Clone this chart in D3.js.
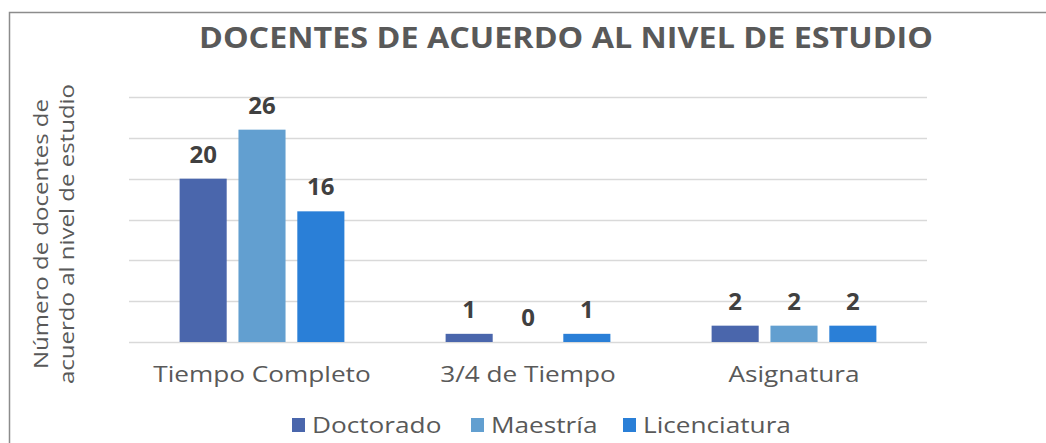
<!DOCTYPE html>
<html>
<head>
<meta charset="utf-8">
<script src="https://cdn.jsdelivr.net/npm/d3@7"></script>
<style>
  body { margin: 0; background: #fff; }
  svg { display: block; }
</style>
</head>
<body>
<script>
const categories = ["Tiempo Completo", "3/4 de Tiempo", "Asignatura"];
const seriesNames = ["Doctorado", "Maestría", "Licenciatura"];
const doctorado = [20, 1, 2];
const maestria = [26, 0, 2];
const licenciatura = [16, 1, 2];
const yTicks = [0, 5, 10, 15, 20, 25, 30];
const colors = ["#4a66ac", "#629fd0", "#2a7fd7"];

const seriesValues = [doctorado, maestria, licenciatura];
const W = 1046, H = 443;
const margin = {left: 129, right: 119, top: 97, bottom: 101};
const font = "'Open Sans', sans-serif";

// the reference uses a wide geometric face; widen Open Sans to match
const widen = (sel, k) => sel.each(function () {
    const len = this.getComputedTextLength();
    d3.select(this).attr("textLength", len * k).attr("lengthAdjust", "spacingAndGlyphs");
});

const svg = d3.select("body").append("svg")
    .attr("width", W)
    .attr("height", H);

// frame
svg.append("path")
    .attr("d", `M9.5,${H} L9.5,12.5 L${W},12.5`)
    .attr("fill", "none")
    .attr("stroke", "#8c8c8c")
    .attr("stroke-width", 1.5);

svg.append("text")
    .attr("x", 566)
    .attr("y", 48)
    .attr("text-anchor", "middle")
    .attr("font-family", font)
    .attr("font-weight", "bold")
    .attr("font-size", "28px")
    .attr("fill", "#595959")
    .attr("textLength", 734)
    .attr("lengthAdjust", "spacingAndGlyphs")
    .text("DOCENTES DE ACUERDO AL NIVEL DE ESTUDIO");

const x0 = d3.scaleBand()
    .domain(categories)
    .range([margin.left, W - margin.right]);

const x1 = d3.scaleBand()
    .domain(seriesNames)
    .range([0, x0.bandwidth()])
    .paddingInner(0.2)
    .paddingOuter(0.86);

const y = d3.scaleLinear()
    .domain([0, 30])
    .range([H - margin.bottom, margin.top]);

// gridlines
svg.append("g")
    .selectAll("line")
    .data(yTicks)
    .join("line")
    .attr("x1", margin.left)
    .attr("x2", W - margin.right)
    .attr("y1", d => Math.round(y(d)) + 0.5)
    .attr("y2", d => Math.round(y(d)) + 0.5)
    .attr("stroke", "#d9d9d9")
    .attr("stroke-width", 1.5);

const groups = svg.append("g")
    .selectAll("g")
    .data(categories)
    .join("g")
    .attr("transform", d => `translate(${x0(d)},0)`);

const cells = (c, ci) => seriesNames.map((s, si) => ({s, si, v: seriesValues[si][ci]}));

groups.selectAll("rect")
    .data(cells)
    .join("rect")
    .attr("x", d => x1(d.s))
    .attr("width", x1.bandwidth())
    .attr("y", d => y(d.v))
    .attr("height", d => y(0) - y(d.v))
    .attr("fill", d => colors[d.si]);

groups.selectAll("text")
    .data(cells)
    .join("text")
    .attr("x", d => x1(d.s) + x1.bandwidth() / 2)
    .attr("y", d => y(d.v) - 16)
    .attr("text-anchor", "middle")
    .attr("font-family", font)
    .attr("font-weight", "bold")
    .attr("font-size", "24px")
    .attr("fill", "#404040")
    .text(d => d.v);

// category labels
svg.append("g")
    .selectAll("text")
    .data(categories)
    .join("text")
    .attr("x", d => x0(d) + x0.bandwidth() / 2)
    .attr("y", 382)
    .attr("text-anchor", "middle")
    .attr("font-family", font)
    .attr("font-size", "22px")
    .attr("fill", "#595959")
    .text(d => d)
    .call(widen, 1.19);

// y axis title
const yt = svg.append("text")
    .attr("transform", "translate(48,234) rotate(-90)")
    .attr("text-anchor", "middle")
    .attr("font-family", font)
    .attr("font-size", "20px")
    .attr("fill", "#595959");
yt.append("tspan").attr("x", 0).attr("dy", 0).text("Número de docentes de");
yt.append("tspan").attr("x", 0).attr("dy", 26).text("acuerdo al nivel de estudio");
yt.selectAll("tspan").call(widen, 1.2);

// legend
const legendX = [292, 471, 623];
const legend = svg.append("g")
    .selectAll("g")
    .data(seriesNames)
    .join("g")
    .attr("transform", (d, i) => `translate(${legendX[i]},418)`);

legend.append("rect")
    .attr("width", 13)
    .attr("height", 14)
    .attr("fill", (d, i) => colors[i]);

legend.append("text")
    .attr("x", 20)
    .attr("y", 15)
    .attr("font-family", font)
    .attr("font-size", "22px")
    .attr("fill", "#595959")
    .text(d => d)
    .call(widen, 1.19);
</script>
</body>
</html>
